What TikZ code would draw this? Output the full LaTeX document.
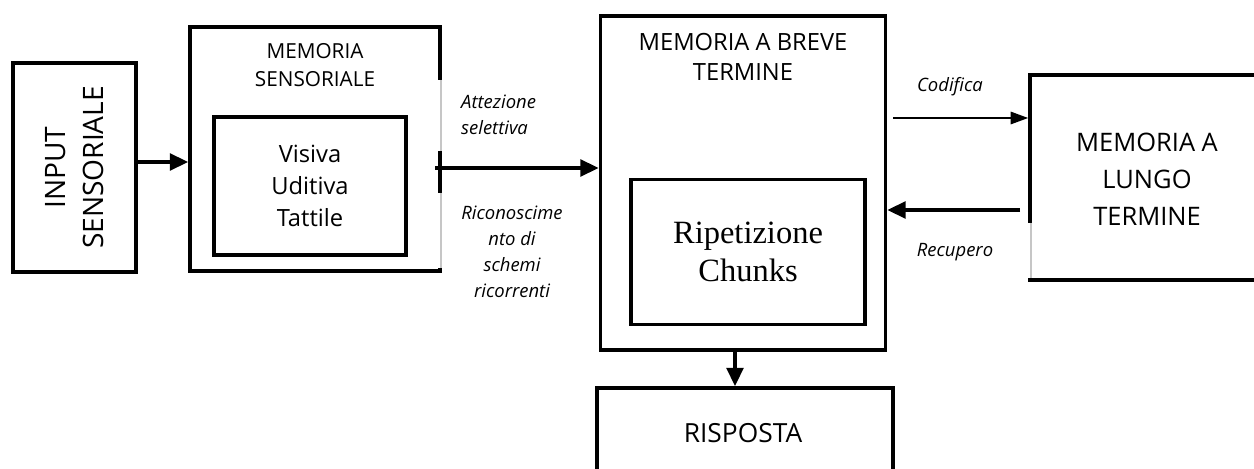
\documentclass[tikz,border=0pt]{standalone}
\usepackage{fontspec}
\setmainfont{Open Sans}
\newfontfamily\serifcap{Liberation Serif}
\usetikzlibrary{arrows.meta}
\tikzset{%
    blk/.style={draw, line width=2pt, inner sep=0pt},
    flow/.style={line width=2pt, -{Triangle[length=10.5pt,width=9.5pt]}},
    thinflow/.style={line width=1.2pt, -{Triangle[length=10pt,width=7pt]}},
    lbl/.style={font=\fontsize{10.5}{14.8}\selectfont\itshape, align=center},
    glitch/.style={white, line width=2.8pt},
    ghost/.style={gray!45, line width=0.7pt}
}

\begin{document}
\begin{tikzpicture}[x=0.02cm, y=-0.02cm]
\useasboundingbox (0,0) rectangle (1254,469);
% boxes
\node[blk, minimum width=123*0.02cm, minimum height=209*0.02cm] (input) at (74.5,167.5) {};
\node[rotate=90, align=center, font=\fontsize{16}{21.6}\selectfont] at (input) {INPUT\\SENSORIALE};

\node[blk, minimum width=250*0.02cm, minimum height=244*0.02cm] (sens) at (315,149) {};
\node[align=center, font=\fontsize{11.8}{16}\selectfont, anchor=north] at (315,37) {MEMORIA\\SENSORIALE};
\node[blk, minimum width=192*0.02cm, minimum height=138*0.02cm, align=center,
      font=\fontsize{13.5}{18.2}\selectfont] (canali) at (310,186) {Visiva\\Uditiva\\Tattile};

\node[blk, minimum width=285*0.02cm, minimum height=334*0.02cm] (breve) at (743,183) {};
\node[align=center, font=\fontsize{13.5}{17}\selectfont, anchor=north] at (743,27) {MEMORIA A BREVE\\TERMINE};
\node[blk, minimum width=234*0.02cm, minimum height=145*0.02cm, align=center,
      font=\serifcap\fontsize{18.5}{21.6}\selectfont] (ripet) at (748,252) {Ripetizione\\Chunks};

\node[blk, minimum width=280*0.02cm, minimum height=205*0.02cm] (lungo) at (1170,177.5) {};
\node[align=center, font=\fontsize{14.5}{21}\selectfont] at (1147,179) {MEMORIA A\\LUNGO\\TERMINE};

\node[blk, minimum width=296*0.02cm, minimum height=140*0.02cm] (risp) at (745,458) {};
\node[font=\fontsize{15}{16}\selectfont] at (743,433) {RISPOSTA};

% grey leftovers on the box edges
\draw[glitch] (440,80) -- (440,151);
\draw[ghost] (441,80) -- (441,151);
\draw[glitch] (440,193) -- (440,268);
\draw[ghost] (441,193) -- (441,268);
\draw[glitch] (1030,223) -- (1030,278);
\draw[ghost] (1031,223) -- (1031,278);

% connectors
\coordinate (attStart) at (435,168);
\coordinate (codStart) at (893,118);
\coordinate (recStart) at (1020,210);
\draw[flow] (input.east |- 0,162) -- (sens.west |- 0,162);
\draw[flow] (attStart) -- (breve.west |- attStart);
\draw[thinflow] (codStart) -- (lungo.west |- codStart);
\draw[flow] (recStart) -- (breve.east |- recStart);
\draw[flow] (breve.south -| 735,0) -- (risp.north -| 735,0);

% labels
\node[lbl, align=left, anchor=west] at (455,115) {Attezione\\selettiva};
\node[lbl] at (512,252) {Riconoscime\\nto di\\schemi\\ricorrenti};
\node[lbl] at (950,87) {Codifica};
\node[lbl] at (955,252) {Recupero};
\end{tikzpicture}
\end{document}
